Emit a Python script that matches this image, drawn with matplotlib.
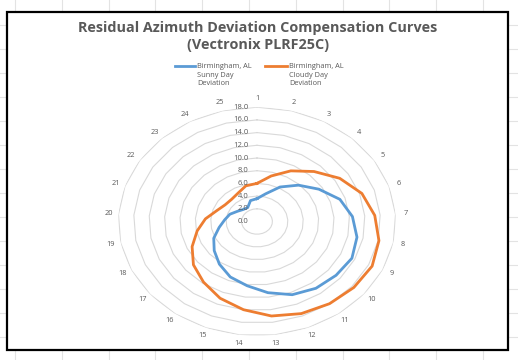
import numpy as np
import matplotlib.pyplot as plt
from matplotlib.patches import Rectangle
from matplotlib.lines import Line2D

plt.rcParams['font.family'] = ['Open Sans', 'DejaVu Sans']

# ---- data ----
categories = [str(i) for i in range(1, 26)]
sunny = [3.6, 4.5, 6.2, 7.85, 9.5, 11.3, 12.4, 13.2, 13.6, 13.3, 13.0, 12.4, 11.3,
         10.2, 9.4, 8.3, 7.2, 6.2, 5.0, 4.2, 3.7, 3.0, 2.6, 2.5, 3.4]
cloudy = [6.0, 7.4, 9.1, 10.8, 12.7, 14.3, 15.3, 16.1, 16.5, 16.3, 16.0, 15.6, 15.0,
          14.0, 13.0, 11.8, 10.7, 9.3, 7.9, 6.7, 5.5, 4.9, 4.8, 5.1, 5.8]
rings = [0, 2, 4, 6, 8, 10, 12, 14, 16, 18]
series_labels = ['Birmingham, AL\nSunny Day\nDeviation',
                 'Birmingham, AL\nCloudy Day\nDeviation']

BLUE = '#5B9BD5'
ORANGE = '#ED7D31'
TXT = '#595959'
GRID = '#D9D9D9'

W, H = 518, 360
fig = plt.figure(figsize=(W / 100, H / 100), dpi=100)

# spreadsheet background + chart frame
bg = fig.add_axes([0, 0, 1, 1])
bg.set_xlim(0, W)
bg.set_ylim(H, 0)
bg.axis('off')
for x in np.arange(15, W, 46.8):
    bg.axvline(x, color='#E3E3E3', lw=0.8)
for y in np.arange(25, H, 24):
    bg.axhline(y, color='#E3E3E3', lw=0.8)
bg.add_patch(Rectangle((7, 12), 501, 338, facecolor='white',
                       edgecolor='black', lw=1.6, zorder=3))

# title
fig.text(258 / W, 1 - 36.5 / H,
         'Residual Azimuth Deviation Compensation Curves\n(Vectronix PLRF25C)',
         ha='center', va='center', fontsize=10.4, fontweight='bold', color=TXT,
         linespacing=1.35)

# legend drawn by hand
for (x0, x1, xt), col, lab in zip([(175, 195, 197), (265, 287, 289)],
                                  [BLUE, ORANGE], series_labels):
    fig.add_artist(Line2D([x0 / W, x1 / W], [1 - 66 / H, 1 - 66 / H],
                          color=col, lw=2))
    fig.text(xt / W, 1 - 63.5 / H, lab, ha='left', va='top', fontsize=5.3,
             color=TXT, linespacing=1.25)

# radar
cx, cy, rx, ry = 257, 221.5, 138.8, 114.3
ax = fig.add_axes([(cx - rx) / W, (H - cy - ry) / H, 2 * rx / W, 2 * ry / H],
                  projection='polar')
ax.set_aspect('auto')
ax.set_theta_zero_location('N')
ax.set_theta_direction(-1)
ax.set_ylim(0, 18)
ax.set_xticks([])
ax.set_yticks([])
ax.grid(False)
ax.spines['polar'].set_visible(False)
ax.patch.set_alpha(0)

n = len(categories)
angles = np.arange(n) * 2 * np.pi / n
ang_c = np.append(angles, angles[0])

for r in rings[1:]:
    ax.plot(ang_c, [r] * (n + 1), color=GRID, lw=0.8, zorder=1)

ax.plot(ang_c, sunny + sunny[:1], color=BLUE, lw=2, solid_joinstyle='round',
        zorder=3)
ax.plot(ang_c, cloudy + cloudy[:1], color=ORANGE, lw=2, solid_joinstyle='round',
        zorder=3)

for a, lab in zip(angles, categories):
    ax.text(a, 19.3, lab, ha='center', va='center', fontsize=5.3, color=TXT,
            clip_on=False)

for r in rings:
    ax.annotate(f'{r:.1f}', xy=(0, r), xytext=(-6, 0), textcoords='offset points',
                ha='right', va='center', fontsize=5.5, color=TXT, zorder=4)

fig.savefig('out.png', dpi=100)
